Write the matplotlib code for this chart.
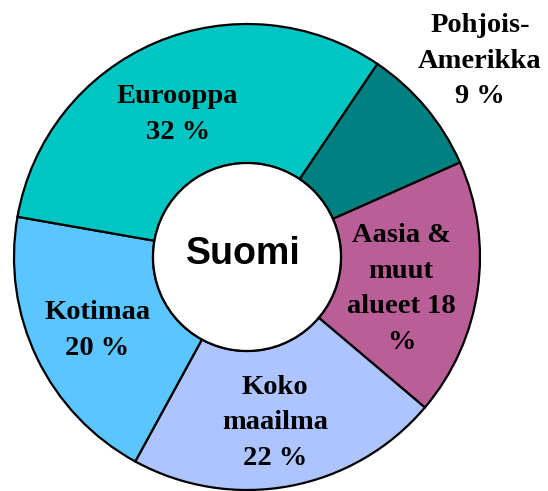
import matplotlib
matplotlib.use("Agg")
import matplotlib.pyplot as plt

# Data
regions = ["Pohjois-Amerikka", "Aasia & muut alueet", "Koko maailma", "Kotimaa", "Eurooppa"]
shares = [9, 18, 22, 20, 32]
label_texts = ["Pohjois-\nAmerikka\n9 %", "Aasia &\nmuut\nalueet 18\n%", "Koko\nmaailma\n22 %", "Kotimaa\n20 %", "Eurooppa\n32 %"]
colors = ["#008080", "#B95E96", "#ADC4FF", "#5BC5FF", "#00C6C3"]
center_label = "Suomi"

W, H = 548, 491
fig = plt.figure(figsize=(W / 100, H / 100), dpi=100)
ax = fig.add_axes([0, 0, 1, 1])

cx, cy, R = 247, H - 257, 233
hole = 94 / 233

wedges, _ = ax.pie(shares, colors=colors, startangle=56, counterclock=False,
                   radius=R, center=(cx, cy),
                   wedgeprops=dict(width=R * (1 - hole), edgecolor="black", linewidth=1.6),
                   frame=True)
# inner outline
circ = plt.Circle((cx, cy), R * hole, facecolor="white", edgecolor="black", linewidth=1.6, zorder=3)
ax.add_patch(circ)

# label offsets in units of radius (layout)
offsets = [(1.00, 0.841), (0.661, -0.137), (0.12, -0.712), (-0.642, -0.315), (-0.298, 0.612)]
for txt, (ox, oy) in zip(label_texts, offsets):
    ax.text(cx + ox * R, cy + oy * R, txt, ha="center", va="center",
            fontsize=20.5, fontweight="bold", family="Liberation Serif",
            linespacing=1.55, zorder=5)

ax.text(cx - 4, cy + 3, center_label, ha="center", va="center", fontsize=27,
        fontweight="bold", family="Liberation Sans", zorder=5)

ax.set_xlim(0, W)
ax.set_ylim(0, H)
ax.set_aspect("auto")
ax.axis("off")
fig.savefig("out.png", dpi=100)
